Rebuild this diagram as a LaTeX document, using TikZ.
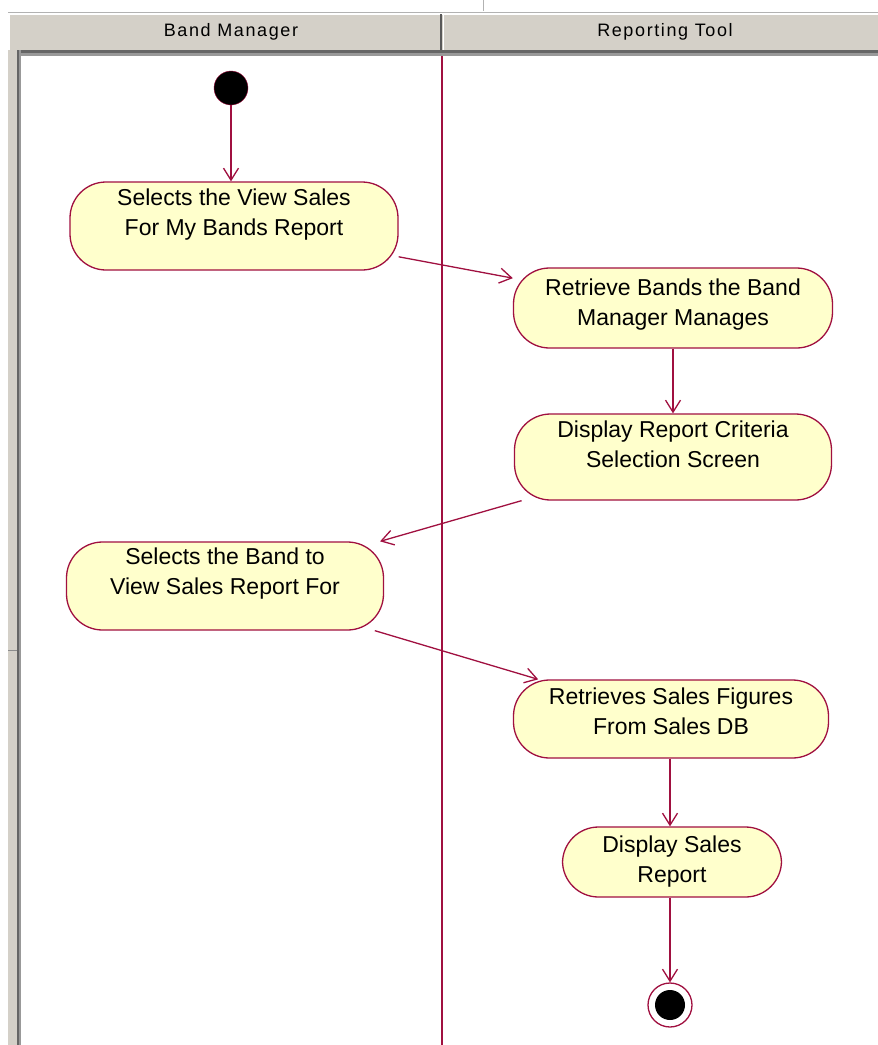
\documentclass[tikz,border=0pt]{standalone}
\usepackage{fontspec}
\setmainfont{Liberation Sans}
\usepackage{tikz}
\usetikzlibrary{positioning,arrows.meta}
\definecolor{rosered}{RGB}{160,16,64}
\definecolor{actfill}{RGB}{255,255,204}
\definecolor{panegray}{RGB}{212,208,200}

\begin{document}
\begin{tikzpicture}[x=1pt,y=-1pt]
\tikzstyle{act}=[rectangle, rounded corners=36pt, draw=rosered, fill=actfill, line width=1.3pt]
\tikzstyle{acttext}=[align=center, inner sep=0pt, font=\fontsize{23}{30}\selectfont]
\tikzstyle{startdot}=[circle, minimum size=34pt, inner sep=0pt, fill=black, draw=rosered]
\tikzstyle{enddot}=[circle, minimum size=44pt, inner sep=0pt, fill=white, draw=rosered, line width=1.3pt,
  path picture={\fill[black] (path picture bounding box.center) circle (15pt);}]
\tikzstyle{lanehead}=[inner sep=0pt, font=\fontsize{18}{20}\selectfont\addfontfeature{LetterSpace=9}]
\tikzstyle{connect}=[draw=rosered, line width=1.3pt, -{Straight Barb[length=12pt,width=15pt]}]
\useasboundingbox (0,0) rectangle (878,1045);
% window frame
\draw[gray!60] (8,12) -- (878,12);
\draw[gray!60] (483,0) -- (483,11);
\fill[panegray] (10,14) rectangle (878,50);
\draw[white, line width=1.5pt] (10,14.5) -- (878,14.5);
\fill[black!60] (10,50) rectangle (878,53);
\fill[black!40] (10,53) rectangle (878,56);
\draw[black!65, line width=1.5pt] (441,14) -- (441,50);
\draw[white, line width=1pt] (443.5,14) -- (443.5,50);
\fill[panegray] (8,50) rectangle (17,1045);
\fill[black!60] (17,50) rectangle (19,1045);
\fill[black!40] (19,50) rectangle (21,1045);
\draw[black!45] (8,650) -- (17,650);
\node[lanehead] (lane_bm) at (231,32) {Band Manager};
\node[lanehead] (lane_rt) at (665,32) {Reporting Tool};
\draw[rosered, line width=1.3pt] (442,56) -- (442,1045);
% activities
	\node[startdot] (start) at (231,88) {};
	\node[act, minimum width=328pt, minimum height=88pt,
	  label={[acttext, yshift=11pt]center:Selects the View Sales\\For My Bands Report}] (view_sales) at (234,226) {};
	\node[act, minimum width=319pt, minimum height=80pt,
	  label={[acttext, yshift=3pt]center:Retrieve Bands the Band\\Manager Manages}] (get_bands) at (673,308) {};
	\node[act, minimum width=317pt, minimum height=86pt,
	  label={[acttext, yshift=13pt]center:Display Report Criteria\\Selection Screen}] (criteria) at (673,457) {};
	\node[act, minimum width=317pt, minimum height=88pt,
	  label={[acttext, yshift=12pt]center:Selects the Band to\\View Sales Report For}] (pick_band) at (225,586) {};
	\node[act, minimum width=315pt, minimum height=78pt,
	  label={[acttext, yshift=8pt]center:Retrieves Sales Figures\\From Sales DB}] (get_sales) at (671,719) {};
	\node[act, minimum width=219pt, minimum height=70pt,
	  label={[acttext, yshift=0pt]center:Display Sales\\Report}] (show_sales) at (672,862) {};
	\node[enddot] (stop) at (670,1005) {};

	\path
		(start) edge [connect] (start |- view_sales.north)
		(view_sales) edge [connect] (get_bands)
		(get_bands) edge [connect] (criteria)
		(criteria) edge [connect] (pick_band)
		(pick_band) edge [connect] (get_sales)
		(get_sales.south -| stop) edge [connect] (stop |- show_sales.north)
		(show_sales.south -| stop) edge [connect] (stop);

\end{tikzpicture}
\end{document}
